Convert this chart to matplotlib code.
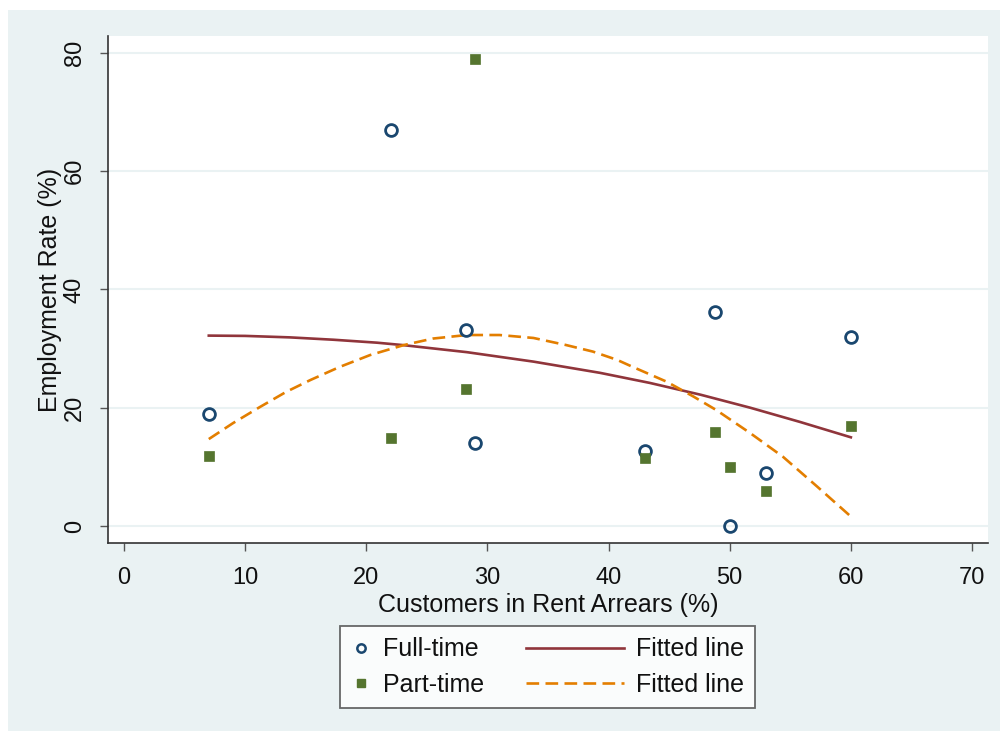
import numpy as np
import matplotlib
matplotlib.use("Agg")
import matplotlib.pyplot as plt
from matplotlib.patches import Rectangle
from matplotlib.legend_handler import HandlerLine2D
from matplotlib.lines import Line2D

plt.rcParams['font.family'] = ['Liberation Sans', 'DejaVu Sans']

# scatter data
arrears = [7, 22, 28.2, 29, 43, 48.8, 50, 53, 60]
full_time = [19, 67, 33.2, 14, 12.7, 36.2, 0, 9, 32]
part_time = [11.9, 14.9, 23.2, 79, 11.5, 15.9, 10, 5.9, 16.9]

# fitted lines, points
fit_ft_x = [7, 10, 13.7, 17.3, 20.9, 23, 28.3, 33.8, 39.3, 43.4, 47.6, 51.7, 55.8, 60]
fit_ft_y = [32.2, 32.15, 31.9, 31.5, 31.0, 30.6, 29.4, 27.8, 25.9, 24.2, 22.2, 20.0, 17.6, 15.0]
fit_pt_x = [7, 9, 11.2, 13.4, 15.4, 17.8, 20.3, 23.1, 25.5, 28.3, 31.0, 33.8, 36.5,
            38.7, 40.7, 42.0, 44.8, 47.0, 48.9, 51.7, 54.4, 57.2, 60]
fit_pt_y = [14.7, 17.4, 20.1, 22.7, 24.7, 26.9, 28.9, 30.6, 31.7, 32.3, 32.3, 31.8, 30.6,
            29.5, 28.1, 26.9, 24.4, 21.9, 19.6, 15.7, 11.7, 6.7, 1.6]

xticks = [0, 10, 20, 30, 40, 50, 60, 70]
yticks = [0, 20, 40, 60, 80]

navy = '#1a476f'
green = '#55752f'
maroon = '#90353b'
orange = '#e37e00'
bg = '#eaf2f3'


class LongLine(HandlerLine2D):
    # draw the line handle longer, reaching back into the column gap
    def create_artists(self, legend, orig_handle, xdescent, ydescent,
                       width, height, fontsize, trans):
        extra = 3.1 * fontsize
        return super().create_artists(legend, orig_handle, xdescent + extra, ydescent,
                                      width + extra, height, fontsize, trans)


fig = plt.figure(figsize=(10, 7.31), dpi=100, facecolor='white')
fig.patches.append(Rectangle((0.008, 0), 0.992, 1 - 10 / 731, transform=fig.transFigure,
                             facecolor=bg, edgecolor='none', zorder=-10))

ax = fig.add_axes([0.108, (731 - 543) / 731, 0.88, 507 / 731])
ax.set_facecolor('white')

ax.plot(fit_ft_x, fit_ft_y, color=maroon, lw=1.9, zorder=2)
ax.plot(fit_pt_x, fit_pt_y, color=orange, lw=1.9, dashes=(4.8, 2.4), zorder=2)
ax.plot(arrears, full_time, 'o', ms=8.5, mfc='none', mec=navy, mew=2, zorder=3)
ax.plot(arrears, part_time, 's', ms=7, mfc=green, mec=green, mew=0.5, zorder=3)

ax.set_xlim(-1.32, 71.32)
ax.set_ylim(-2.875, 82.87)
ax.set_xticks(xticks)
ax.set_yticks(yticks)
ax.yaxis.grid(True, color=bg, lw=1.5)
ax.set_axisbelow(True)

for s in ['top', 'right']:
    ax.spines[s].set_visible(False)
for s in ['left', 'bottom']:
    ax.spines[s].set_color('#333333')
    ax.spines[s].set_linewidth(1.2)

ax.tick_params(axis='both', colors='#555555', labelcolor='#111111', length=6,
               width=1, labelsize=17, pad=8)
ax.tick_params(axis='x', pad=11)
ax.tick_params(axis='y', labelrotation=90, pad=10)
for t in ax.get_yticklabels():
    t.set_va('center')

ax.set_xlabel('Customers in Rent Arrears (%)', fontsize=18, color='#111111', labelpad=3)
ax.set_ylabel('Employment Rate (%)', fontsize=18, color='#111111')
ax.yaxis.set_label_coords(-0.052, 0.5)

h_ft = Line2D([], [], ls='none', marker='o', ms=6, mfc='none', mec=navy, mew=1.8)
h_pt = Line2D([], [], ls='none', marker='s', ms=5.5, mfc=green, mec=green)
h_f1 = Line2D([], [], color=maroon, lw=1.9)
h_f2 = Line2D([], [], color=orange, lw=1.9, dashes=(4.8, 2.4))

leg = fig.legend([h_ft, h_pt, h_f1, h_f2],
                 ['Full-time', 'Part-time', 'Fitted line', 'Fitted line'],
                 ncol=2, loc='center', bbox_to_anchor=(0.5475, 1 - 667 / 731),
                 fontsize=18, handlelength=0.8, handletextpad=0.5, columnspacing=4.76,
                 labelspacing=0.45, borderpad=0.45, fancybox=False,
                 handler_map={h_f1: LongLine(), h_f2: LongLine()})
leg.get_frame().set_edgecolor('#444444')
leg.get_frame().set_linewidth(1.3)
for t in leg.get_texts():
    t.set_color('#111111')

fig.savefig('out.png', dpi=100, facecolor=fig.get_facecolor())
